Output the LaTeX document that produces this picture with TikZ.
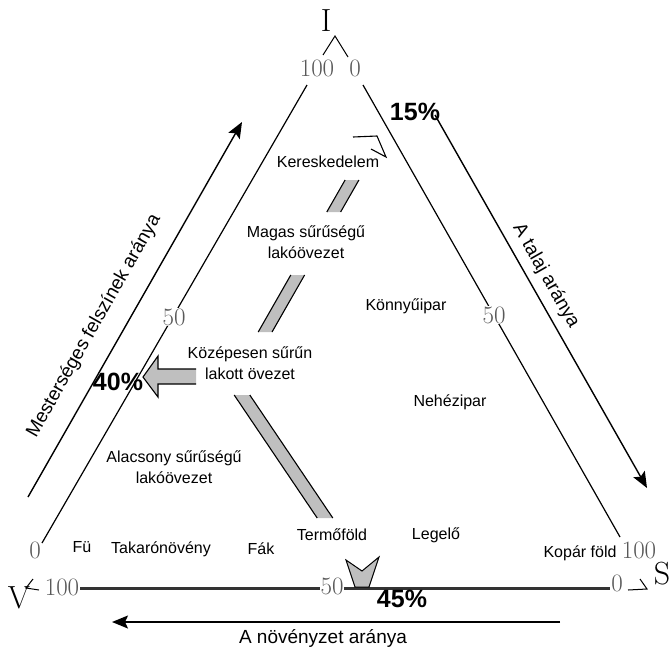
\documentclass[tikz,border=0pt]{standalone}
\usepackage{fontspec}
\newfontfamily\sansf{Liberation Sans}
\usetikzlibrary{arrows.meta}
\begin{document}
\begin{tikzpicture}[x=1pt,y=-1pt,
  lbl/.style={font=\sansf\fontsize{16}{21}\selectfont, align=center, inner sep=1pt},
  axl/.style={font=\sansf\fontsize{19}{20}\selectfont, inner sep=0pt},
  pct/.style={font=\sansf\bfseries\fontsize{25}{26}\selectfont, inner sep=0pt},
  num/.style={font=\fontsize{25}{26}\selectfont, text=black!65, inner sep=1pt},
  vert/.style={font=\fontsize{32}{34}\selectfont, inner sep=0pt},
  side/.style={line width=1.2pt},
  axarrow/.style={line width=1.4pt, -{Stealth[length=16pt,width=13pt,inset=3pt]}},
  bandfill/.style={fill=black!25},
  bandedge/.style={line width=1.1pt},
]
\useasboundingbox (0,0) rectangle (671,651);

% vertex labels
\node[vert] (I) at (326,21) {I};
\node[num] (t100) at (317,68) {100};
\node[num] (t0) at (355,68) {0};
\coordinate (capI) at (335,36);
\coordinate (capIl) at (323,55);
\coordinate (capIr) at (348,57);
\draw[line width=1pt] (capIl) -- (capI) -- (capIr);

\node[vert] (V) at (19,598) {V};
\coordinate (capV) at (26,588);
\coordinate (capVu) at (33,579);
\coordinate (capVr) at (39,590);
\draw[line width=1pt] (capVu) -- (capV) -- (capVr);

\node[vert] (S) at (662,574) {S};
\coordinate (capS) at (647,589);
\coordinate (capSl) at (628,590);
\coordinate (capSu) at (640,579);
\draw[line width=1pt] (capSl) -- (capS) -- (capSu);

% triangle sides
\coordinate (Lt) at (307,85);
\coordinate (Lb) at (42,543);
\coordinate (Rt) at (363,85);
\coordinate (Rb) at (620,537);
\draw[side] (Lt) -- (Lb);
\draw[side] (Rt) -- (Rb);
\node[num, fill=white] (l50) at (174,317) {50};
\node[num, fill=white] (r50) at (494,315) {50};
\node[num] (l0) at (35,550) {0};
\node[num] (r100) at (639,550) {100};

% bottom axis
\node[num] (b100) at (62,587) {100};
\node[num] (b0) at (617,583) {0};
\draw[line width=3pt, black!80] (b100.east |- 0,588) -- (b0.west |- 0,588);
\node[num, fill=white] (b50) at (332,586) {50};

% axis arrows
\coordinate (La1) at (28,497);
\coordinate (La2) at (242,122);
\coordinate (Ra1) at (435,115);
\coordinate (Ra2) at (647,488);
\coordinate (Ba1) at (560,622);
\coordinate (Ba2) at (112,622);
\draw[axarrow] (La1) -- (La2);
\draw[axarrow] (Ra1) -- (Ra2);
\draw[axarrow] (Ba1) -- (Ba2);
\node[axl, rotate=60.4] (lefttxt) at (94,326) {Mesterséges felszínek aránya};
\node[axl, rotate=-60.4] (righttxt) at (546,276) {A talaj aránya};
\node[axl] (bottxt) at (323,638) {A növényzet aránya};

% gray band segments
\coordinate (s1a) at (345.1,180); \coordinate (s1b) at (358.9,180);
\coordinate (s1c) at (340.6,212); \coordinate (s1d) at (326.8,212);
\fill[bandfill] (s1a) -- (s1b) -- (s1c) -- (s1d) -- cycle;
\draw[bandedge] (s1a) -- (s1d) (s1b) -- (s1c);
\coordinate (s2a) at (290.8,275); \coordinate (s2b) at (304.6,275);
\coordinate (s2c) at (272.0,332); \coordinate (s2d) at (258.2,332);
\fill[bandfill] (s2a) -- (s2b) -- (s2c) -- (s2d) -- cycle;
\draw[bandedge] (s2a) -- (s2d) (s2b) -- (s2c);
\coordinate (s3a) at (234.2,395); \coordinate (s3b) at (249.8,395);
\coordinate (s3c) at (332.8,518); \coordinate (s3d) at (317.2,518);
\fill[bandfill] (s3a) -- (s3b) -- (s3c) -- (s3d) -- cycle;
\draw[bandedge] (s3a) -- (s3d) (s3b) -- (s3c);

% block arrow to 40%
\fill[bandfill] (196,369) -- (158,369) -- (158,356) -- (143,377) -- (158,397) -- (158,384) -- (196,384) -- cycle;
\draw[bandedge] (196,369) -- (158,369) -- (158,356) -- (143,377) -- (158,397) -- (158,384) -- (196,384);

% arrow at Kereskedelem
\draw[bandedge] (353,137) -- (377,136) -- (386,157) -- (371,149);

% arrow head at 50 (bottom)
\filldraw[fill=black!25, line width=1pt] (346,560) -- (362,571) -- (379,557) -- (369,587) -- (355,587) -- cycle;

% percentages
\node[pct] (p15) at (415,112) {15\%};
\node[pct] (p40) at (118,382) {40\%};
\node[pct] (p45) at (402,599) {45\%};

% region labels
\node[lbl] (ker) at (328,162) {Kereskedelem};
\node[lbl] (mag) at (306,242) {Magas sűrűségű\\lakóövezet};
\node[lbl] (kon) at (406,306) {Könnyűipar};
\node[lbl] (koz) at (250,363) {Középesen sűrűn\\lakott övezet};
\node[lbl] (neh) at (450,402) {Nehézipar};
\node[lbl] (ala) at (174,467) {Alacsony sűrűségű\\lakóövezet};
\node[lbl] (fu) at (82,547) {Fü};
\node[lbl] (tak) at (161,549) {Takarónövény};
\node[lbl] (fak) at (261,549) {Fák};
\node[lbl] (ter) at (332,535) {Termőföld};
\node[lbl] (leg) at (436,535) {Legelő};
\node[lbl] (kop) at (580,553) {Kopár föld};
\end{tikzpicture}
\end{document}
